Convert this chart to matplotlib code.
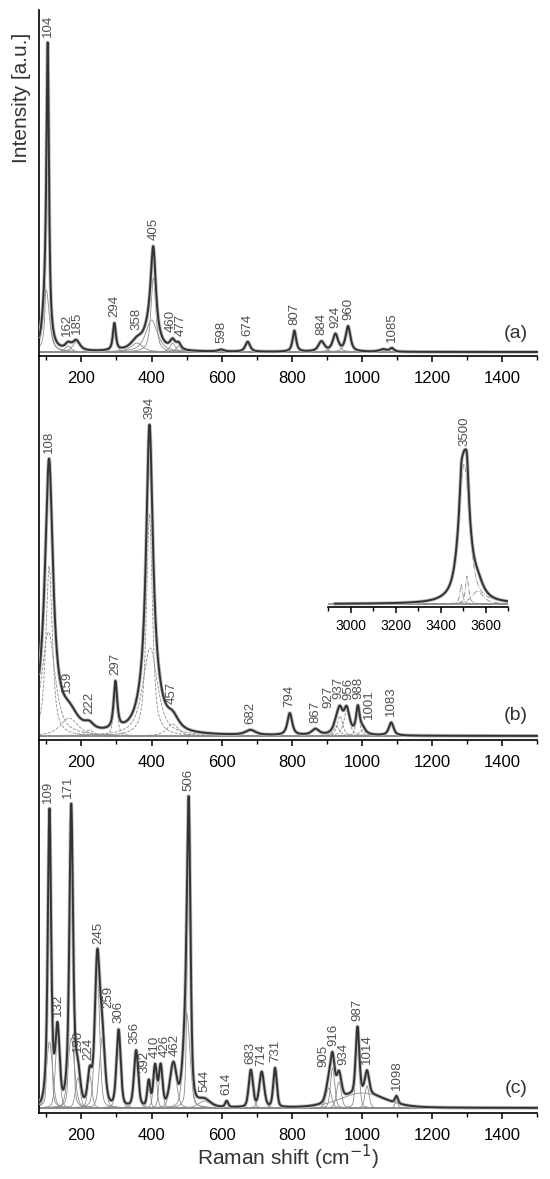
import numpy as np
import matplotlib
matplotlib.use('Agg')
import matplotlib.pyplot as plt

plt.rcParams['font.family'] = ['Liberation Sans', 'DejaVu Sans']

# fitted bands: centre (cm-1), height (a.u.), fwhm (cm-1)
a_pos = [100, 104, 162, 185, 294, 358, 400, 405, 460, 477, 598, 674, 807, 884, 924, 960, 1060, 1085]
a_height = [62, 255, 6, 10, 27, 9, 32, 74, 9, 6, 2, 10, 21, 10, 17, 25, 2.5, 3.5]
a_fwhm = [20, 8, 20, 25, 10, 40, 40, 16, 18, 15, 20, 16, 12, 20, 18, 16, 25, 14]
a_label_x = [104, 162, 185, 294, 358, 405, 460, 477, 598, 674, 807, 884, 924, 960, 1085]
a_label_text = ['104', '162', '185', '294', '358', '405', '460', '477', '598', '674',
                '807', '884', '924', '960', '1085']

b_pos = [108, 106, 165, 222, 297, 394, 396, 460, 682, 794, 867, 927, 937, 956, 988, 1001, 1083]
b_height = [170, 104, 18, 6, 47, 222, 88, 12, 5, 22, 6, 10, 20, 25, 26, 6, 13]
b_fwhm = [22, 45, 60, 30, 12, 20, 50, 40, 35, 16, 25, 20, 18, 20, 12, 20, 16]
b_label_x = [108, 159, 222, 297, 394, 457, 682, 794, 867, 927, 937, 956, 988, 1001, 1083]
b_label_text = ['108', '159', '222', '297', '394', '457', '682', '794', '867', '927',
                '937', '956', '988', '1001', '1083']

# OH stretching region of (b), inset
i_pos = [3505, 3492, 3518, 3565]
i_height = [140, 20, 28, 13]
i_fwhm = [55, 14, 16, 60]
i_label_x = [3505]
i_label_text = ['3500']

c_pos = [109, 109, 132, 171, 171, 190, 224, 245, 259, 306, 356, 392, 410, 426, 462,
         506, 500, 550, 614, 683, 714, 752, 905, 916, 934, 987, 1014, 1000, 1098]
c_height = [230, 66, 75, 230, 70, 30, 32, 140, 70, 76, 56, 25, 40, 40, 42,
            233, 95, 7, 6, 37, 35, 39, 20, 40, 26, 66, 22, 15, 7]
c_fwhm = [10, 20, 14, 11, 22, 16, 14, 16, 18, 14, 14, 10, 12, 12, 22,
          11, 22, 40, 10, 14, 16, 12, 18, 14, 16, 12, 14, 150, 10]
c_label_x = [109, 132, 171, 190, 224, 245, 259, 306, 356, 392, 410, 426, 462, 506,
             550, 614, 683, 714, 752, 905, 916, 934, 987, 1014, 1098]
c_label_text = ['109', '132', '171', '190', '224', '245', '259', '306', '356', '392',
                '410', '426', '462', '506', '544', '614', '683', '714', '731', '905',
                '916', '934', '987', '1014', '1098']


def band(x, x0, h, w, eta):
    lor = 1.0 / (1.0 + ((x - x0) / (w / 2)) ** 2)
    gau = np.exp(-4 * np.log(2) * ((x - x0) / w) ** 2)
    return h * (eta * lor + (1 - eta) * gau)


def spread(xs, minsep):
    # push neighbouring labels apart so they sit side by side
    xs = np.array(xs, dtype=float)
    for _ in range(300):
        moved = False
        for i in range(len(xs) - 1):
            d = xs[i + 1] - xs[i]
            if d < minsep - 1e-6:
                s = (minsep - d) / 2
                xs[i] -= s
                xs[i + 1] += s
                moved = True
        if not moved:
            break
    return xs


def draw_panel(ax, x, pos, height, fwhm, eta, lab_x, lab_text, comp_ls, minsep, gap=6, fs=9.5):
    comps = [band(x, p, h, w, eta) for p, h, w in zip(pos, height, fwhm)]
    total = np.sum(comps, axis=0)
    ax.axhline(0, color='#9a9a9a', lw=1.4, zorder=1)
    for c in comps:
        ax.plot(x, c, color='#8c8c8c', lw=0.6, ls=comp_ls, zorder=2)
    ax.plot(x, total, color='#bdbdbd', lw=2.6, zorder=3)
    ax.plot(x, total, color='#333333', lw=1.4, zorder=4)
    tx = spread(lab_x, minsep)
    for lx, px, lt in zip(lab_x, tx, lab_text):
        yv = np.interp(lx, x, total)
        ax.text(px, yv + gap, lt, rotation=90, ha='center', va='bottom',
                fontsize=fs, color='#505050')


def style(ax, xlim, ylim, left=True, lsize=12):
    ax.set_xlim(*xlim)
    ax.set_ylim(*ylim)
    ax.set_facecolor('none')
    for s in ['top', 'right']:
        ax.spines[s].set_visible(False)
    ax.spines['left'].set_visible(left)
    ax.spines['left'].set_linewidth(1.2)
    ax.spines['bottom'].set_linewidth(1.2)
    ax.set_yticks([])
    ax.tick_params(axis='x', which='major', direction='out', length=4.5, width=1.1,
                   pad=6.5, labelsize=lsize)
    ax.tick_params(axis='x', which='minor', direction='out', length=3, width=1.0)


W, H = 550, 1179
fig = plt.figure(figsize=(W / 100, H / 100), dpi=100)
L, R = 39.3, 537.5
# (top, bottom) of each panel in pixels
rows = [(10, 356), (356, 740), (740, 1113)]
axes = []
for top, bot in rows:
    axes.append(fig.add_axes([L / W, 1 - bot / H, (R - L) / W, (bot - top) / H]))

x = np.linspace(80, 1500, 4000)
sep = 10 / ((R - L) / (1500 - 80))  # 10 px in cm-1
panels = [
    (a_pos, a_height, a_fwhm, 0.75, a_label_x, a_label_text, '-', (-4, 342), '(a)'),
    (b_pos, b_height, b_fwhm, 0.75, b_label_x, b_label_text, '--', (-4, 380), '(b)'),
    (c_pos, c_height, c_fwhm, 0.3, c_label_x, c_label_text, '-', (-5, 368), '(c)'),
]
for ax, (pos, hh, ww, eta, lx, lt, ls, yl, tag) in zip(axes, panels):
    draw_panel(ax, x, pos, hh, ww, eta, lx, lt, ls, sep)
    style(ax, (80, 1500), yl)
    ax.set_xticks(np.arange(200, 1401, 200))
    ax.set_xticks(np.arange(100, 1501, 100), minor=True)
    ax.text(0.981, 0.065, tag, transform=ax.transAxes, ha='right', va='center',
            fontsize=14, color='#333333')

axes[2].set_xlabel('Raman shift (cm$^{-1}$)', fontsize=15, labelpad=0, color='#333333')
fig.text(22 / W, 1 - 98 / H, 'Intensity [a.u.]', rotation=90, ha='center', va='center',
         fontsize=15, color='#333333')

# inset
ins = fig.add_axes([328 / W, 1 - 607 / H, 180 / W, 187 / H])
xi = np.linspace(2930, 3700, 2000)
draw_panel(ins, xi, i_pos, i_height, i_fwhm, 0.8, i_label_x, i_label_text, '-.', 40, gap=5)
style(ins, (2930, 3700), (-3, 184), left=False, lsize=10)
ins.set_xticks(np.arange(3000, 3601, 200))
ins.set_xticks(np.arange(2900, 3701, 100), minor=True)
ins.tick_params(axis='x', which='major', pad=4)

fig.savefig('out.png', dpi=100)
